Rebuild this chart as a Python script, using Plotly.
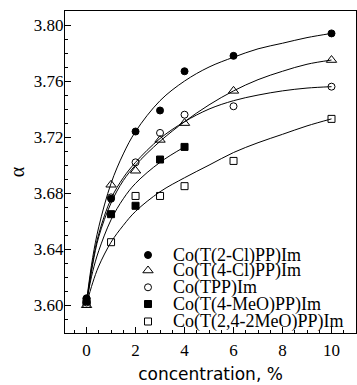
import plotly.graph_objects as go

# ---- data ----
x_full = [0, 1, 2, 3, 4, 6, 10]
x_short = [0, 1, 2, 3, 4]

y_2cl = [3.605, 3.676, 3.724, 3.739, 3.767, 3.778, 3.794]
y_4cl = [3.600, 3.686, 3.696, 3.718, 3.730, 3.753, 3.775]
y_tpp = [3.602, 3.677, 3.702, 3.723, 3.736, 3.742, 3.756]
y_4meo = [3.603, 3.665, 3.671, 3.704, 3.713]
y_24meo = [3.601, 3.645, 3.678, 3.678, 3.685, 3.703, 3.733]

# fitted curves
xc_full = [0, 0.25, 0.5, 1, 1.5, 2, 3, 4, 5, 6, 7, 8, 9, 10]
xc_short = [0, 0.25, 0.5, 1, 1.5, 2, 3, 4]
c_2cl = [3.603, 3.634, 3.656, 3.687, 3.708, 3.724, 3.746, 3.760, 3.770, 3.777, 3.783, 3.787, 3.791, 3.794]
c_4cl = [3.600, 3.629, 3.649, 3.673, 3.689, 3.700, 3.717, 3.731, 3.743, 3.753, 3.761, 3.767, 3.772, 3.775]
c_tpp = [3.602, 3.631, 3.651, 3.676, 3.691, 3.702, 3.719, 3.731, 3.740, 3.746, 3.750, 3.753, 3.755, 3.756]
c_4meo = [3.603, 3.624, 3.639, 3.661, 3.676, 3.687, 3.702, 3.713]
c_24meo = [3.601, 3.616, 3.628, 3.645, 3.657, 3.667, 3.681, 3.691, 3.700, 3.709, 3.716, 3.722, 3.728, 3.733]

names = ["Co(T(2-Cl)PP)Im", "Co(T(4-Cl)PP)Im", "Co(TPP)Im",
         "Co(T(4-MeO)PP)Im", "Co(T(2,4-2MeO)PP)Im"]

x_ticks = [0, 2, 4, 6, 8, 10]
y_ticks = [3.60, 3.64, 3.68, 3.72, 3.76, 3.80]

# ---- styles ----
symbols = ["circle", "triangle-up-open", "circle-open", "square", "square-open"]
sizes = [7, 9, 7, 7, 7]
SERIF = "Liberation Serif, Times New Roman, serif"

series = [
    (x_full, y_2cl, xc_full, c_2cl),
    (x_full, y_4cl, xc_full, c_4cl),
    (x_full, y_tpp, xc_full, c_tpp),
    (x_short, y_4meo, xc_short, c_4meo),
    (x_full, y_24meo, xc_full, c_24meo),
]

fig = go.Figure()
for i, (xs, ys, xc, yc) in enumerate(series):
    fig.add_trace(go.Scatter(x=xc, y=yc, mode="lines", line=dict(color="black", width=1, shape="spline"),
                             showlegend=False, hoverinfo="skip"))
    fig.add_trace(go.Scatter(x=xs, y=ys, mode="markers", name=names[i], showlegend=False,
                             marker=dict(symbol=symbols[i], size=sizes[i], color="black",
                                         line=dict(color="black", width=1))))

# ---- manual legend (pixel-coordinate overlay axes) ----
L, R, T, B = 65, 356, 11, 333
leg_sym_x = 148
leg_text_x = 172
leg_rows = [255, 270.5, 287.3, 304, 321.5]
for i in range(5):
    fig.add_trace(go.Scatter(x=[leg_sym_x], y=[leg_rows[i]], xaxis="x2", yaxis="y2", mode="markers",
                             showlegend=False, hoverinfo="skip",
                             marker=dict(symbol=symbols[i], size=sizes[i], color="black",
                                         line=dict(color="black", width=1))))
    fig.add_annotation(x=leg_text_x, y=leg_rows[i], xref="x2", yref="y2", text=names[i],
                       showarrow=False, xanchor="left", yanchor="middle", borderpad=0,
                       font=dict(family=SERIF, size=18, color="black"))

axis_common = dict(showline=True, mirror=True, linecolor="black", linewidth=1,
                   ticks="inside", ticklen=6, tickcolor="black", tickwidth=1,
                   showgrid=False, zeroline=False, automargin=False,
                   tickfont=dict(family=SERIF, size=17, color="black"))

fig.update_layout(
    width=357, height=385,
    margin=dict(l=L, r=357 - R, t=T, b=385 - B),
    plot_bgcolor="white", paper_bgcolor="white",
    font=dict(family=SERIF, color="black"),
    xaxis=dict(range=[-0.88, 11.0], tickvals=x_ticks,
               minor=dict(dtick=0.5, tick0=0, ticks="inside", ticklen=3, tickcolor="black"),
               title=dict(text="concentration, %", font=dict(family="DejaVu Sans", size=17, color="black"),
                          standoff=8),
               ticklabelstandoff=2,
               **axis_common),
    yaxis=dict(range=[3.5802, 3.81], tickvals=y_ticks, tickformat=".2f",
               minor=dict(dtick=0.01, tick0=3.60, ticks="inside", ticklen=3, tickcolor="black"),
               title=dict(text="α", font=dict(family=SERIF, size=20, color="black"), standoff=3),
               ticklabelstandoff=-3,
               **axis_common),
    xaxis2=dict(range=[L, R], overlaying="x", visible=False, fixedrange=True),
    yaxis2=dict(range=[B, T], overlaying="y", visible=False, fixedrange=True),
    showlegend=False,
)

fig.write_html("out.html", config={"displayModeBar": False},
               post_script="document.body.style.margin='0';document.body.style.padding='0';")
